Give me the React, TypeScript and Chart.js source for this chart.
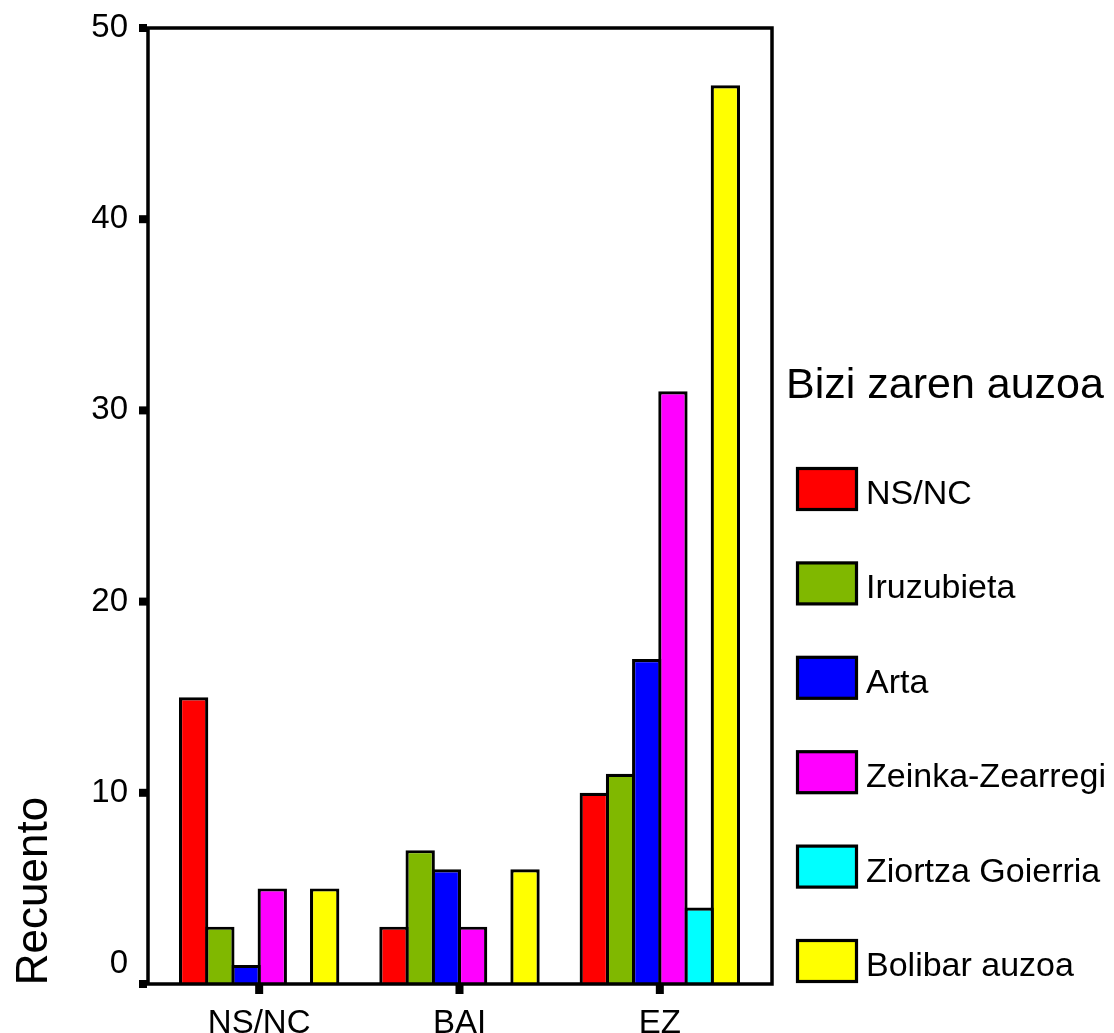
import React, { useEffect, useRef } from "react";
import { Chart, registerables } from "chart.js";

Chart.register(...registerables);

// ---- data ----
const categories = ["NS/NC", "BAI", "EZ"];
const seriesNames = [
  "NS/NC",
  "Iruzubieta",
  "Arta",
  "Zeinka-Zearregi",
  "Ziortza Goierria",
  "Bolibar auzoa",
];
const nsncValues = [15, 3, 10];
const iruzubietaValues = [3, 7, 11];
const artaValues = [1, 6, 17];
const zeinkaValues = [5, 3, 31];
const ziortzaValues = [0, 0, 4];
const bolibarValues = [5, 6, 47];
const seriesColors = ["#FF0000", "#80B800", "#0000FF", "#FF00FF", "#00FFFF", "#FFFF00"];
const yTickValues = [0, 10, 20, 30, 40, 50];
const legendTitle = "Bizi zaren auzoa";
const yAxisTitle = "Recuento";

const FONT = '"Liberation Sans", Arial, Helvetica, sans-serif';

const spssPlugin = {
  id: "spssDecor",
  afterDatasetsDraw(chart: any) {
    const { ctx, chartArea, scales } = chart;
    const left = chartArea.left - 11;
    const right = chartArea.right + 12;
    const top = chartArea.top;
    const bottom = chartArea.bottom;
    ctx.save();
    // frame
    ctx.strokeStyle = "#000";
    ctx.lineWidth = 3.5;
    ctx.strokeRect(left, top, right - left, bottom - top);
    // y tick squares
    ctx.fillStyle = "#000";
    scales.y.ticks.forEach((t: any) => {
      const py = scales.y.getPixelForValue(t.value);
      ctx.fillRect(left - 9, py - 4, 8, 8);
    });
    // x tick squares
    categories.forEach((_c, i) => {
      const px = scales.x.getPixelForValue(i);
      ctx.fillRect(px - 4, bottom + 1, 8, 9);
    });
    ctx.restore();
  },
  afterDraw(chart: any) {
    const { ctx } = chart;
    ctx.save();
    ctx.fillStyle = "#000";
    // y axis title (rotated)
    ctx.save();
    ctx.translate(47, 891);
    ctx.rotate(-Math.PI / 2);
    ctx.font = `44px ${FONT}`;
    ctx.textAlign = "center";
    ctx.textBaseline = "alphabetic";
    ctx.fillText(yAxisTitle, 0, 0);
    ctx.restore();

    // legend title
    ctx.font = `43px ${FONT}`;
    ctx.textAlign = "left";
    ctx.textBaseline = "alphabetic";
    ctx.fillText(legendTitle, 786, 398);

    // legend items
    chart.data.datasets.forEach((ds: any, i: number) => {
      const y = 467 + 94.4 * i;
      ctx.fillStyle = ds.backgroundColor;
      ctx.fillRect(797.5, y + 1.5, 59, 41);
      ctx.strokeStyle = "#000";
      ctx.lineWidth = 3.2;
      ctx.strokeRect(797.5, y + 1.5, 59, 41);
      ctx.fillStyle = "#000";
      ctx.font = `34px ${FONT}`;
      ctx.fillText(ds.label, 866, y + 37);
    });
    ctx.restore();
  },
};

export default function App() {
  const canvasRef = useRef<HTMLCanvasElement | null>(null);

  useEffect(() => {
    const canvas = canvasRef.current;
    if (!canvas) return;
    const valueLists = [nsncValues, iruzubietaValues, artaValues, zeinkaValues, ziortzaValues, bolibarValues];
    const chart = new Chart(canvas, {
      type: "bar",
      data: {
        labels: categories,
        datasets: seriesNames.map((name, i) => ({
          label: name,
          data: valueLists[i],
          backgroundColor: seriesColors[i],
          borderColor: "#000000",
          borderWidth: 3.2,
          categoryPercentage: 0.785,
          barPercentage: 1.12,
        })),
      },
      options: {
        responsive: false,
        animation: false,
        events: [],
        layout: { padding: { left: 0, right: 354, top: 28, bottom: 0 } },
        plugins: {
          legend: { display: false },
          tooltip: { enabled: false },
          title: { display: false },
        },
        scales: {
          x: {
            grid: { display: false, drawTicks: false },
            border: { display: false },
            ticks: {
              color: "#000",
              padding: 20,
              maxRotation: 0,
              font: { family: FONT, size: 33 },
            },
            afterFit(scale: any) {
              scale.height = 49;
              scale.paddingLeft = 0;
              scale.paddingRight = 0;
            },
          },
          y: {
            min: 0,
            max: 50,
            grid: { display: false, drawTicks: false },
            border: { display: false },
            afterBuildTicks(scale: any) {
              scale.ticks = yTickValues.map((v) => ({ value: v }));
            },
            ticks: {
              color: "#000",
              padding: 31,
              font: { family: FONT, size: 33 },
              callback: (v: any) => (Number(v) === 0 ? ["0", ""] : String(v)),
            },
            afterFit(scale: any) {
              scale.width = 159;
              scale.paddingTop = 0;
              scale.paddingBottom = 0;
            },
          },
        },
      },
      plugins: [spssPlugin],
    } as any);
    return () => chart.destroy();
  }, []);

  return (
    <div style={{ position: "absolute", left: 0, top: 0, width: 1114, height: 1033, background: "#fff" }}>
      <canvas ref={canvasRef} width={1114} height={1033} style={{ width: 1114, height: 1033, display: "block" }} />
    </div>
  );
}
